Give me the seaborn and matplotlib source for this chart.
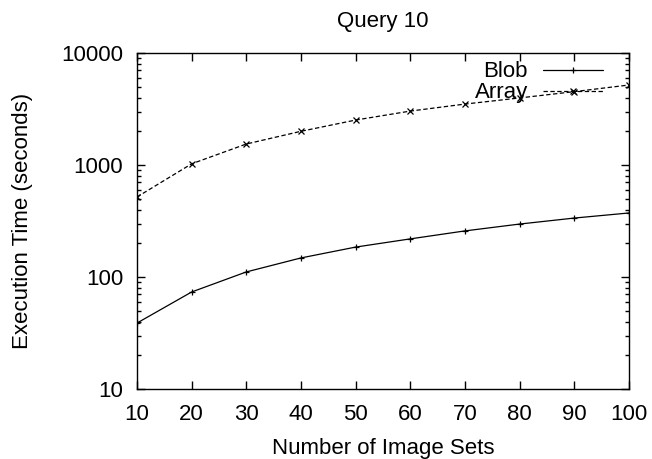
import matplotlib
matplotlib.use("Agg")
import matplotlib.pyplot as plt
import seaborn as sns
import pandas as pd
import numpy as np
from matplotlib.ticker import LogLocator, FixedLocator, NullFormatter

image_sets = [10, 20, 30, 40, 50, 60, 70, 80, 90, 100]
blob = [38.8, 73.5, 111, 148, 185, 219, 258, 297, 336, 373]
array = [518, 1025, 1540, 2000, 2520, 3030, 3500, 3970, 4520, 5180]

sns.set_style("ticks")
plt.rcParams['font.family'] = ['Liberation Sans', 'DejaVu Sans']
plt.rcParams.update({"text.color": "black", "axes.labelcolor": "black",
                     "xtick.color": "black", "ytick.color": "black"})

df = pd.DataFrame({
    "sets": image_sets * 2,
    "time": blob + array,
    "series": ["Blob"] * len(blob) + ["Array"] * len(array),
})

fig = plt.figure(figsize=(6.52, 4.59), dpi=100)
ax = fig.add_axes([137/652, 1 - 389/459, (629-137)/652, (389-53)/459])

sns.lineplot(data=df, x="sets", y="time", hue="series", style="series",
             palette={"Blob": "black", "Array": "black"},
             dashes={"Blob": "", "Array": (3.5, 2)},
             markers={"Blob": "+", "Array": "x"},
             markersize=5, markeredgewidth=0.9, markeredgecolor="black",
             linewidth=0.9, ax=ax)

ax.set_yscale("log")
ax.set_xlim(10, 100)
ax.set_ylim(10, 10000)
ax.xaxis.set_major_locator(FixedLocator(image_sets))
ax.yaxis.set_major_locator(FixedLocator([10, 100, 1000, 10000]))
ax.set_yticklabels(["10", "100", "1000", "10000"])
ax.yaxis.set_minor_locator(LogLocator(base=10, subs=np.arange(2, 10)))
ax.yaxis.set_minor_formatter(NullFormatter())
ax.tick_params(which="both", direction="in", top=True, right=True, labelsize=16, width=1,
               color="black", labelcolor="black")
ax.tick_params(which="major", length=6)
ax.tick_params(axis="y", which="major", pad=10)
ax.tick_params(axis="x", which="major", pad=11)
ax.tick_params(which="minor", length=3)
for s in ax.spines.values():
    s.set_linewidth(1)
    s.set_color("black")

ax.set_xlabel("Number of Image Sets", fontsize=16, labelpad=9)
ax.set_ylabel("Execution Time (seconds)", fontsize=16, labelpad=20)
ax.set_title("Query 10", fontsize=16, pad=19)

handles, labels = ax.get_legend_handles_labels()
leg = ax.legend(handles=handles, labels=labels, loc="upper right", frameon=False,
                markerfirst=False, fontsize=16, handlelength=2.7, handletextpad=0.68,
                labelspacing=0.0, borderaxespad=0.0, borderpad=0.0,
                bbox_to_anchor=(0.947, 0.975))

fig.savefig("out.png", dpi=100)
